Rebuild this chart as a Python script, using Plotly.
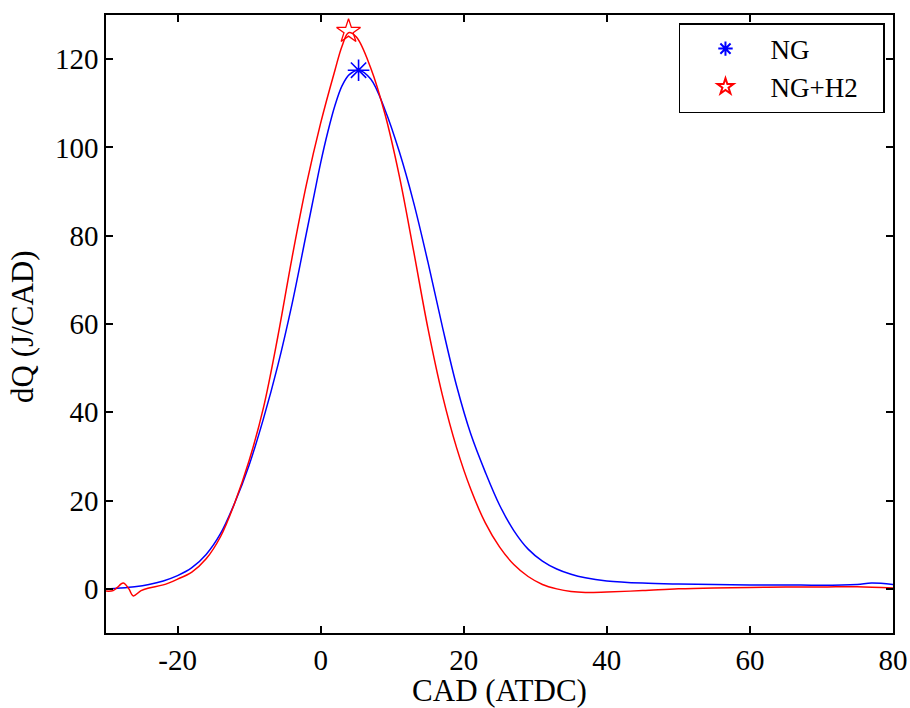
import plotly.graph_objects as go

# NG curve
ng_x = [-30, -28, -26, -24, -22, -20, -18, -16, -14, -12, -10, -8, -6, -4, -2, -1, 0, 1, 2, 3, 4, 5.3, 7, 9, 11, 13, 15, 17, 19, 21, 23, 25, 27, 29, 31, 33, 35, 37, 40, 45, 50, 55, 60, 65, 70, 75, 77, 80]
ng_y = [0, 0.2, 0.5, 1.0, 1.8, 3.0, 4.8, 7.8, 12.5, 19.5, 28, 38.5, 50.5, 64.5, 80.5, 88.5, 96.5, 103.5, 109.5, 114, 116.5, 117.5, 115.5, 108.5, 99, 87.5, 74, 59.5, 46, 35, 26.5, 19, 13.2, 9, 6.3, 4.5, 3.3, 2.5, 1.8, 1.3, 1.1, 1.0, 0.9, 0.9, 0.8, 1.0, 1.3, 1.0]

# NG+H2 curve
h2_x = [-30, -29, -28.5, -27.6, -26.8, -26.2, -25.1, -24, -22, -20, -18, -16, -14, -12, -10, -8, -6, -4, -2, 0, 2, 3, 3.9, 5, 7, 9, 11, 13, 15, 17, 19, 21, 23, 25, 27, 29, 31, 33, 35, 37, 40, 45, 50, 55, 60, 65, 70, 75, 80]
h2_y = [-0.5, -0.4, 0.2, 1.3, 0, -1.6, -0.4, 0.2, 0.9, 2.2, 3.8, 6.8, 11.8, 19.5, 29, 41, 57, 75, 91.5, 105.5, 117.5, 123, 126, 125, 118, 107.5, 93.5, 76.5, 59, 44, 32, 22.5, 15, 9.5, 5.5, 2.8, 1.0, 0, -0.6, -0.8, -0.7, -0.4, 0, 0.2, 0.3, 0.4, 0.4, 0.5, 0.2]

# peak markers
ng_peak = (5.3, 117.5)
h2_peak = (3.9, 126.3)

x_ticks = [-20, 0, 20, 40, 60, 80]
x_labels = ["-20", "0", "20", "40", "60", "80"]
y_ticks = [0, 20, 40, 60, 80, 100, 120]

font_family = "Liberation Serif, Times New Roman, serif"

fig = go.Figure()
fig.add_trace(go.Scatter(x=ng_x, y=ng_y, mode="lines", line=dict(color="#0000ff", width=1.5, shape="spline", smoothing=1.0), showlegend=False, hoverinfo="skip"))
fig.add_trace(go.Scatter(x=h2_x, y=h2_y, mode="lines", line=dict(color="#ff0000", width=1.5, shape="spline", smoothing=1.0), showlegend=False, hoverinfo="skip"))
fig.add_trace(go.Scatter(x=[ng_peak[0]], y=[ng_peak[1]], mode="markers", name="NG",
                         marker=dict(symbol="asterisk-open", size=18, color="#0000ff", line=dict(color="#0000ff", width=1.6))))
fig.add_trace(go.Scatter(x=[h2_peak[0]], y=[h2_peak[1]], mode="markers", name="NG+H2\u00a0\u00a0\u00a0",
                         marker=dict(symbol="star-open", size=18, color="#ff0000", line=dict(color="#ff0000", width=1.3))))

axis_common = dict(showline=True, linecolor="black", linewidth=1.5, mirror="ticks", ticks="inside", ticklen=7,
                   tickwidth=1.5, tickcolor="black", showgrid=False, zeroline=False, automargin=False,
                   tickfont=dict(family=font_family, size=29, color="black"))

fig.update_layout(
    width=910, height=708,
    margin=dict(l=106, r=17, t=15, b=75),
    paper_bgcolor="white", plot_bgcolor="white",
    font=dict(family=font_family, color="black"),
    xaxis=dict(range=[-30, 80], tickvals=x_ticks, ticktext=x_labels,
               title=dict(text="CAD (ATDC)", font=dict(family=font_family, size=31), standoff=4),
               **axis_common),
    yaxis=dict(range=[-10, 130], tickvals=y_ticks, **axis_common),
    annotations=[dict(text="dQ (J/CAD)", xref="paper", yref="paper", x=-0.107, y=0.495,
                      xanchor="center", yanchor="middle", textangle=-90, showarrow=False,
                      font=dict(family=font_family, size=31, color="black"))],
    legend=dict(x=0.9898, y=0.987, xanchor="right", yanchor="top", bordercolor="black", borderwidth=1.5,
                bgcolor="white", font=dict(family=font_family, size=27), itemsizing="constant",
                itemwidth=80, tracegroupgap=0),
)

fig.write_html("out.html")
